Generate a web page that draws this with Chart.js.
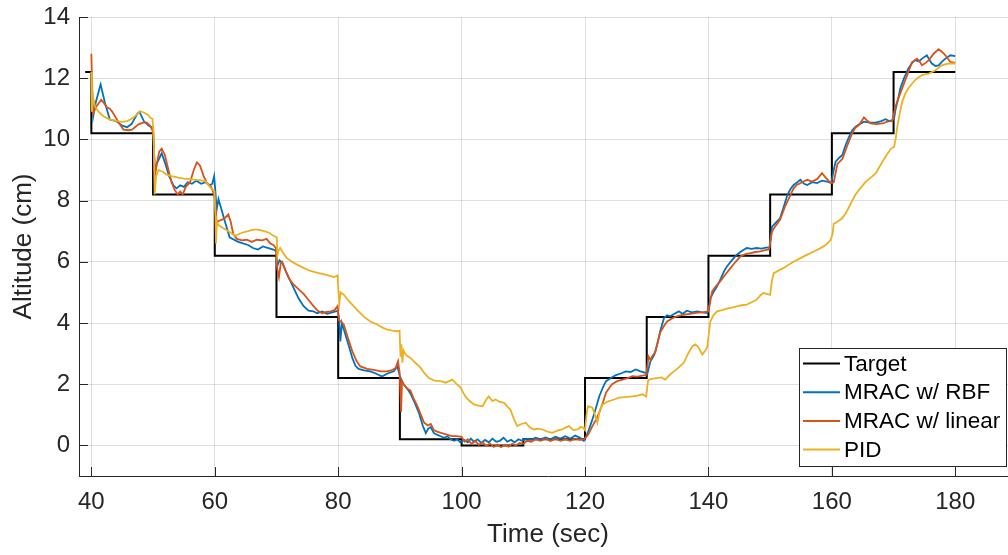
<!DOCTYPE html>
<html>
<head>
<meta charset="utf-8">
<script src="https://cdn.jsdelivr.net/npm/chart.js@4.4.1/dist/chart.umd.min.js"></script>
<style>
  html, body { margin: 0; padding: 0; overflow: hidden; background: #fff; }
  canvas { display: block; }
</style>
</head>
<body>
<canvas id="altitude" width="1017" height="555"></canvas>
<script>
'use strict';

// axis ticks
const timeTicks = [40, 60, 80, 100, 120, 140, 160, 180];
const altTicks = [0, 2, 4, 6, 8, 10, 12, 14];

// reference altitude (step changes)
const targetT = [39, 40, 50, 60, 70, 80, 90, 100, 110, 120, 130, 140, 150, 160, 170, 180];
const targetY = [12.2, 10.2, 8.2, 6.2, 4.2, 2.2, 0.2, 0, 0.2, 2.2, 4.2, 6.2, 8.2, 10.2, 12.2, 12.2];

// MRAC with RBF network
const rbfT = [40, 40.3, 40.7, 41.5, 42.2, 43, 44, 45, 45.8, 46.5, 47.5, 47.8, 48.5, 49.3, 49.8,
  50, 50.3, 50.6, 51.4, 52, 52.6, 53.3, 53.8, 54.4, 55, 55.6, 56.3, 57, 57.8, 58.5, 59.2, 59.6, 59.9,
  60.1, 60.3, 60.6, 61.6, 62.4, 63.8, 65.4, 66.2, 67, 67.8, 68.7, 69.5, 69.95,
  70.2, 70.5, 71, 71.7, 72.3, 73, 73.6, 74.4, 75.2, 76, 76.6, 77.4, 78.2, 79, 79.6, 79.95,
  80.15, 80.35, 80.6, 81.2, 81.8, 82.3, 82.8, 83.3, 84.2, 85.2, 86.1, 87.1, 88, 89, 89.6, 89.95,
  90.3, 90.6, 91.2, 91.7, 92.4, 93.1, 93.7, 94.2, 94.6, 95, 95.5, 96, 96.6, 97.2, 97.7, 98.2, 98.8, 99.3, 99.8,
  100.4, 101, 101.5, 102, 102.6, 103.2, 103.8, 104.4, 105, 105.6, 106.2, 106.8, 107.4, 108, 108.6, 109.2, 109.8,
  110.5, 111.2, 112, 112.8, 113.6, 114.4, 115.2, 116, 116.8, 117.6, 118.4, 119.2, 119.8, 120.2,
  120.6, 121.2, 121.8, 122.3, 122.9, 123.4, 124.2, 125, 125.8, 126.6, 127.4, 128.2, 129, 129.8, 130.1,
  130.6, 131.2, 131.7, 132.2, 132.8, 133.3, 133.8, 134.5, 135.2, 135.8, 136.5, 137.3, 138.2, 139, 139.8,
  140.1, 140.3, 140.8, 141.4, 142, 142.5, 143, 143.6, 144.1, 144.6, 145.4, 146.2, 147, 147.8, 148.6, 149.5, 149.9,
  150.3, 151, 151.6, 152.2, 152.8, 153.3, 153.8, 154.4, 154.9, 155.5, 156, 156.8, 157.6, 158.4, 159.2, 159.9,
  160.3, 160.6, 161.2, 161.7, 162.2, 162.8, 163.3, 163.8, 164.5, 165.2, 166.1, 167.1, 168, 168.7, 169.3, 169.8,
  170.1, 170.3, 170.7, 171.1, 171.7, 172.4, 173, 173.5, 174.1, 174.6, 175.4, 175.8, 176.2, 176.8, 177.3, 177.9, 178.4, 179.2, 180];
const rbfY = [12.2, 10.75, 11.2, 11.8, 11.2, 10.65, 10.6, 10.45, 10.4, 10.5, 10.85, 10.9, 10.6, 10.45, 10.4,
  10.3, 8.9, 9.2, 9.55, 9.2, 8.8, 8.5, 8.4, 8.5, 8.45, 8.6, 8.55, 8.65, 8.55, 8.6, 8.5, 8.55, 8.8,
  8.3, 7.7, 8.05, 7.35, 6.8, 6.65, 6.55, 6.45, 6.4, 6.5, 6.45, 6.4, 6.35,
  5.9, 6.05, 5.95, 5.6, 5.35, 5.05, 4.8, 4.55, 4.4, 4.38, 4.32, 4.38, 4.3, 4.35, 4.38, 4.4,
  4.1, 3.4, 4.0, 3.6, 3.2, 2.85, 2.6, 2.5, 2.45, 2.42, 2.35, 2.25, 2.35, 2.42, 2.58, 2.3,
  2.1, 2.0, 1.85, 1.7, 1.4, 1.05, 0.65, 0.4, 0.55, 0.6, 0.4, 0.35, 0.3, 0.25, 0.3, 0.2, 0.15, 0.2, 0.1,
  0.18, 0.1, 0.22, 0.12, 0.2, 0.08, 0.18, 0.1, 0.22, 0.12, 0.15, 0.25, 0.12, 0.18, 0.1, 0.2, 0.15,
  0.22, 0.18, 0.25, 0.2, 0.26, 0.2, 0.28, 0.22, 0.3, 0.22, 0.32, 0.25, 0.15, 0.3,
  0.5, 0.85, 1.25, 1.6, 1.9, 2.1, 2.2, 2.3, 2.35, 2.42, 2.4, 2.48, 2.42, 2.37, 2.35,
  2.75, 2.95, 3.3, 3.75, 4.16, 4.25, 4.22, 4.3, 4.38, 4.3, 4.4, 4.35, 4.38, 4.35, 4.33,
  4.5, 4.81, 5.0, 5.2, 5.45, 5.68, 5.85, 6.0, 6.12, 6.23, 6.35, 6.45, 6.42, 6.45, 6.43, 6.47, 6.45,
  7.15, 7.3, 7.42, 7.8, 8.19, 8.38, 8.51, 8.6, 8.68, 8.55, 8.51, 8.6, 8.57, 8.65, 8.62, 8.58,
  9.0, 9.27, 9.4, 9.49, 9.8, 10.09, 10.3, 10.41, 10.5, 10.58, 10.55, 10.55, 10.6, 10.66, 10.6, 10.63,
  10.7, 10.96, 11.3, 11.67, 12.0, 12.32, 12.5, 12.59, 12.55, 12.64, 12.75, 12.6, 12.48, 12.4, 12.42, 12.55, 12.64, 12.75, 12.72];

// MRAC with linear regressor
const linT = [40, 40.15, 40.3, 40.6, 40.9, 41.6, 42, 42.5, 43, 43.4, 44, 44.4, 45.2, 46, 46.6, 47.2, 47.7, 48.4, 49, 49.5, 49.9,
  50.1, 50.3, 50.6, 51, 51.4, 51.9, 52.5, 53, 53.5, 54, 54.4, 54.8, 55.3, 56, 56.6, 57.1, 57.6, 58.2, 58.8, 59.4, 59.9,
  60.1, 60.3, 60.8, 61.5, 62.2, 62.6, 63, 63.6, 64.4, 65.2, 66, 66.8, 67.7, 68.4, 69, 69.5, 69.9,
  70.1, 70.4, 70.7, 70.9, 71.5, 72.2, 72.8, 73.6, 74.4, 75.2, 76, 76.7, 77.4, 78.1, 78.8, 79.4, 79.9,
  80.1, 80.4, 80.9, 81.6, 82.3, 83, 83.6, 84.7, 85.8, 86.9, 87.9, 88.6, 89.3, 89.7, 89.95,
  90.2, 90.35, 90.6, 91.2, 91.7, 92.3, 92.8, 93.4, 93.9, 94.5, 95, 95.5, 96, 96.8, 97.6, 98.4, 99.2, 100,
  100.5, 101, 101.6, 102.2, 102.8, 103.4, 104, 104.6, 105.2, 105.8, 106.4, 107, 107.6, 108.2, 108.8, 109.4,
  110, 110.6, 111.3, 112, 112.8, 113.6, 114.4, 115.2, 116, 116.8, 117.6, 118.4, 119.2, 119.9,
  120.5, 121.2, 121.8, 122.3, 122.9, 123.4, 124, 124.4, 125.2, 126.1, 126.9, 127.7, 128.5, 129.3, 129.9,
  130.3, 130.6, 131, 131.4, 131.8, 132.2, 132.8, 133.3, 134.1, 134.9, 135.5, 136, 137, 138, 139, 139.9,
  140.2, 140.6, 141.2, 141.9, 142.8, 143.6, 144.4, 145.2, 146, 146.8, 147.6, 148.4, 149.2, 149.8,
  150.3, 150.8, 151.6, 152.4, 153.3, 153.8, 154.3, 155.2, 156, 156.8, 157.6, 158.4, 159, 159.8,
  160.3, 160.9, 161.7, 162.5, 163.3, 163.8, 164.4, 165.2, 165.8, 166.3, 167.2, 168.2, 169, 169.8,
  170.3, 170.8, 171.4, 172.2, 173, 173.8, 174.2, 174.6, 175.2, 175.7, 176.5, 177.3, 177.9, 178.4, 179.2, 180];
const linY = [12.8, 11.6, 10.85, 11.0, 11.1, 11.3, 11.2, 11.05, 11.0, 10.9, 10.7, 10.56, 10.32, 10.3, 10.32, 10.42, 10.5, 10.55, 10.55, 10.45, 10.3,
  10.0, 8.8, 9.2, 9.6, 9.7, 9.5, 9.0, 8.6, 8.35, 8.2, 8.3, 8.2, 8.45, 8.6, 9.0, 9.25, 9.15, 8.8, 8.55, 8.45, 8.2,
  7.9, 7.3, 7.35, 7.4, 7.55, 7.3, 6.9, 6.75, 6.7, 6.72, 6.65, 6.72, 6.7, 6.75, 6.6, 6.55, 6.45,
  5.8, 5.5, 5.95, 6.0, 5.7, 5.4, 5.25, 5.1, 4.95, 4.75, 4.55, 4.4, 4.32, 4.36, 4.38, 4.42, 4.55,
  4.1, 4.05, 3.95, 3.5, 3.07, 2.75, 2.58, 2.5, 2.47, 2.42, 2.42, 2.45, 2.53, 2.75, 2.4,
  1.1, 2.1, 2.0, 1.85, 1.8, 1.5, 1.3, 1.0, 0.75, 0.65, 0.7, 0.5, 0.45, 0.4, 0.35, 0.3, 0.3, 0.28,
  0.12, 0.2, 0.05, 0.15, 0.02, 0.1, -0.02, 0.06, -0.05, 0.03, -0.06, 0.02, -0.04, 0.05, 0.0, 0.08,
  0.05, 0.15, 0.12, 0.2, 0.15, 0.22, 0.14, 0.22, 0.15, 0.2, 0.15, 0.22, 0.18, 0.2,
  0.35, 0.63, 0.85, 1.07, 1.4, 1.72, 1.9, 2.0, 2.1, 2.15, 2.2, 2.26, 2.25, 2.28, 2.3,
  2.9, 2.8, 2.95, 3.05, 3.4, 3.7, 3.9, 4.05, 4.15, 4.22, 4.25, 4.27, 4.3, 4.33, 4.35, 4.38,
  4.6, 5.03, 5.2, 5.36, 5.6, 5.8, 6.0, 6.18, 6.25, 6.28, 6.32, 6.34, 6.38, 6.4,
  6.99, 7.15, 7.37, 7.8, 8.19, 8.4, 8.51, 8.6, 8.68, 8.62, 8.7, 8.9, 8.75, 8.57,
  8.6, 9.2, 9.36, 9.8, 10.2, 10.38, 10.47, 10.72, 10.6, 10.52, 10.5, 10.52, 10.58, 10.6,
  11.07, 11.35, 11.67, 12.1, 12.53, 12.64, 12.55, 12.42, 12.5, 12.59, 12.8, 12.95, 12.85, 12.75, 12.53, 12.5];

// PID controller
const pidT = [40, 40.1, 40.25, 40.6, 41.2, 42, 42.7, 43.4, 44.2, 45, 45.8, 46.6, 47.3, 47.9, 48.5, 49.2, 49.6, 49.9,
  50.1, 50.25, 50.5, 50.9, 51.5, 52.2, 53, 54.1, 55, 56, 57, 58, 58.5, 59.2, 59.7, 59.95,
  60.1, 60.2, 60.35, 60.6, 61.4, 62.2, 63.3, 64.4, 65.4, 66.2, 67, 68, 68.8, 69.5, 69.9,
  70.05, 70.15, 70.3, 70.6, 71.2, 71.7, 72.5, 73.4, 74.4, 75.5, 76.5, 77.6, 78.5, 79.3, 79.9,
  80.05, 80.2, 80.4, 80.9, 81.6, 82.5, 83.3, 84.2, 85.2, 86.3, 87.2, 88, 88.8, 89.6, 89.95,
  90.1, 90.25, 90.4, 90.6, 91, 91.7, 92.5, 93.3, 94, 94.7, 95.6, 96.6, 97.4, 98.5, 99.2, 99.8,
  100.6, 101.3, 102, 102.7, 103.4, 104, 104.4, 105, 105.5, 106.2, 106.9, 107.5, 107.9, 108.5, 109, 109.7,
  110.4, 111, 111.7, 112.4, 113.1, 113.9, 114.7, 115.5, 116.3, 117, 117.4, 118.1, 118.8, 119.3, 119.7, 120,
  120.3, 120.5, 121.2, 121.6, 122, 122.4, 122.8, 123.4, 123.9, 124.7, 125.5, 126.5, 127.7, 128.5, 129.3, 129.9,
  130.2, 130.4, 131, 131.7, 132.4, 133, 133.7, 134.4, 135.2, 136, 136.7, 137.4, 137.9, 138.4, 139, 139.5, 139.8,
  140.3, 140.8, 141.4, 142.2, 143, 143.8, 144.6, 145.4, 146.2, 147, 147.8, 148.4, 148.9, 149.5, 150,
  150.3, 150.6, 151.4, 152.2, 153, 153.8, 154.9, 155.7, 156.5, 157.3, 158.1, 159, 159.8, 160.1, 160.3,
  160.6, 161.2, 161.7, 162.3, 162.8, 163.3, 163.8, 164.6, 165.5, 166.3, 167.1, 167.7, 168.2, 168.9, 169.6, 170.1,
  170.4, 170.6, 171, 171.4, 171.9, 172.4, 173, 173.5, 174, 174.6, 175.7, 176.8, 177.8, 178.9, 180];
const pidY = [12.2, 10.9, 11.4, 11.07, 10.9, 10.75, 10.68, 10.63, 10.6, 10.57, 10.6, 10.68, 10.8, 10.92, 10.88, 10.8, 10.7, 10.68,
  10.2, 8.2, 8.8, 9.0, 8.95, 8.85, 8.8, 8.75, 8.72, 8.7, 8.68, 8.65, 8.63, 8.45, 8.35, 8.3,
  7.5, 6.6, 7.3, 7.2, 7.1, 7.0, 6.85, 6.95, 7.0, 7.05, 7.05, 7.0, 6.95, 6.85, 6.82,
  6.8, 6.2, 6.35, 6.45, 6.25, 6.12, 6.0, 5.9, 5.8, 5.7, 5.65, 5.6, 5.55, 5.5, 5.55,
  5.0, 4.65, 5.0, 4.93, 4.75, 4.55, 4.38, 4.2, 4.05, 3.95, 3.85, 3.78, 3.75, 3.73, 3.75,
  2.9, 3.3, 2.7, 3.1, 2.95, 2.86, 2.7, 2.55, 2.35, 2.2, 2.12, 2.1, 2.05, 2.15, 2.0, 1.9,
  1.6, 1.45, 1.34, 1.3, 1.28, 1.5, 1.6, 1.45, 1.5, 1.42, 1.39, 1.25, 1.17, 0.85, 0.63, 0.7,
  0.74, 0.6, 0.52, 0.55, 0.52, 0.45, 0.41, 0.48, 0.52, 0.6, 0.63, 0.5, 0.52, 0.6, 0.58, 0.5,
  1.1, 1.28, 1.23, 1.0, 0.74, 1.15, 1.33, 1.4, 1.45, 1.5, 1.56, 1.58, 1.6, 1.63, 1.67, 1.6,
  2.1, 2.15, 2.18, 2.2, 2.22, 2.15, 2.3, 2.42, 2.55, 2.7, 3.0, 3.24, 3.3, 3.2, 2.97, 3.1, 3.2,
  4.05, 4.25, 4.38, 4.42, 4.47, 4.5, 4.54, 4.58, 4.6, 4.68, 4.76, 4.9, 4.98, 4.95, 4.92,
  5.4, 5.63, 5.72, 5.8, 5.9, 6.0, 6.12, 6.2, 6.28, 6.36, 6.44, 6.55, 6.71, 6.9, 7.25,
  7.27, 7.35, 7.43, 7.6, 7.8, 8.0, 8.19, 8.4, 8.62, 8.75, 8.89, 9.1, 9.27, 9.5, 9.7, 9.76,
  10.1, 10.41, 10.85, 11.23, 11.5, 11.67, 11.82, 11.94, 12.02, 12.1, 12.15, 12.26, 12.42, 12.48, 12.48];

const axisColor = '#262626';
const gridColor = 'rgba(38,38,38,0.15)';
const fontFamily = '"Liberation Sans", Arial, Helvetica, sans-serif';

function toPoints(ts, ys) {
  return ts.map(function(t, i) { return { x: t, y: ys[i] }; });
}

// tick marks drawn inside the axes, like MATLAB
const inwardTicks = {
  id: 'inwardTicks',
  afterDatasetsDraw: function(chart) {
    const ctx = chart.ctx;
    const area = chart.chartArea;
    const xs = chart.scales.x;
    const ys = chart.scales.y;
    ctx.save();
    ctx.strokeStyle = axisColor;
    ctx.lineWidth = 1;
    ctx.beginPath();
    xs.ticks.forEach(function(t) {
      const px = Math.round(xs.getPixelForValue(t.value)) + 0.5;
      ctx.moveTo(px, area.bottom);
      ctx.lineTo(px, area.bottom - 9);
    });
    ys.ticks.forEach(function(t) {
      const py = Math.round(ys.getPixelForValue(t.value)) + 0.5;
      ctx.moveTo(area.left, py);
      ctx.lineTo(area.left + 9, py);
    });
    ctx.stroke();
    ctx.restore();
  }
};

// boxed legend in the lower right corner of the axes
const boxLegend = {
  id: 'boxLegend',
  afterDraw: function(chart) {
    const ctx = chart.ctx;
    const area = chart.chartArea;
    const sets = chart.data.datasets;
    const rowH = 28.7;
    ctx.save();
    ctx.font = '22.5px ' + fontFamily;
    let textW = 0;
    sets.forEach(function(ds) { textW = Math.max(textW, ctx.measureText(ds.label).width); });
    const w = Math.round(45 + textW + 6);
    const h = 118;
    const right = area.right - 11;
    const bottom = area.bottom - 10;
    const left = right - w;
    const top = bottom - h;
    ctx.fillStyle = '#fff';
    ctx.fillRect(left, top, w, h);
    ctx.strokeStyle = axisColor;
    ctx.lineWidth = 1;
    ctx.strokeRect(left + 0.5, top + 0.5, w, h);
    ctx.textBaseline = 'middle';
    ctx.textAlign = 'left';
    sets.forEach(function(ds, i) {
      const cy = top + 15.5 + i * rowH;
      ctx.strokeStyle = ds.borderColor;
      ctx.lineWidth = 2;
      ctx.beginPath();
      ctx.moveTo(left + 4, cy);
      ctx.lineTo(left + 41, cy);
      ctx.stroke();
      ctx.fillStyle = '#000';
      ctx.fillText(ds.label, left + 45, cy + 1);
    });
    ctx.restore();
  }
};

const ctx = document.getElementById('altitude').getContext('2d');

new Chart(ctx, {
  type: 'line',
  data: {
    datasets: [
      { label: 'Target', data: toPoints(targetT, targetY), borderColor: '#000000', borderWidth: 2, stepped: 'before', order: 4 },
      { label: 'MRAC w/ RBF', data: toPoints(rbfT, rbfY), borderColor: '#0072BD', borderWidth: 1.8, order: 3 },
      { label: 'MRAC w/ linear', data: toPoints(linT, linY), borderColor: '#D95319', borderWidth: 1.8, order: 2 },
      { label: 'PID', data: toPoints(pidT, pidY), borderColor: '#EDB120', borderWidth: 1.8, order: 1 }
    ]
  },
  options: {
    responsive: false,
    animation: false,
    parsing: false,
    elements: { point: { radius: 0 }, line: { tension: 0, fill: false } },
    layout: { padding: { top: 17, right: 0, bottom: 0, left: 0 } },
    plugins: {
      legend: { display: false },
      tooltip: { enabled: false }
    },
    scales: {
      x: {
        type: 'linear',
        min: 38,
        max: 190,
        afterBuildTicks: function(scale) {
          scale.ticks = timeTicks.map(function(v) { return { value: v }; });
        },
        afterFit: function(scale) {
          scale.height = 79;
          scale.paddingLeft = 0;
          scale.paddingRight = 0;
        },
        grid: { color: gridColor, drawTicks: false },
        border: { display: true, color: axisColor, width: 1 },
        ticks: { color: axisColor, padding: 12, maxRotation: 0, font: { size: 24, family: fontFamily } },
        title: { display: true, text: 'Time (sec)', color: axisColor, padding: { top: 0, bottom: 5 }, font: { size: 26, family: fontFamily } }
      },
      y: {
        type: 'linear',
        min: -1,
        max: 14,
        afterBuildTicks: function(scale) {
          scale.ticks = altTicks.map(function(v) { return { value: v }; });
        },
        afterFit: function(scale) {
          scale.width = 79;
          // the top label may overhang; keep the plot top fixed
          scale.paddingTop = 0;
          scale.paddingBottom = 0;
        },
        grid: { color: gridColor, drawTicks: false },
        border: { display: true, color: axisColor, width: 1 },
        ticks: { color: axisColor, padding: 9, font: { size: 24, family: fontFamily } },
        title: { display: true, text: 'Altitude (cm)', color: axisColor, padding: { top: 8, bottom: 0 }, font: { size: 26, family: fontFamily } }
      }
    }
  },
  plugins: [inwardTicks, boxLegend]
});
</script>
</body>
</html>
